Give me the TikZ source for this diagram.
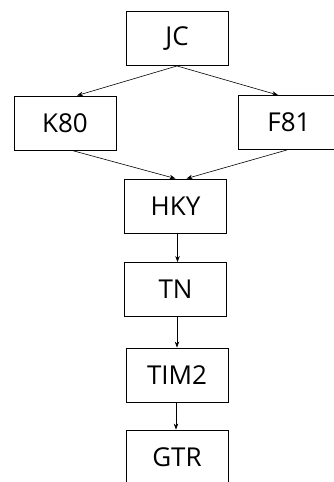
\documentclass[tikz,border=0pt]{standalone}
\usepackage{fontspec}
\setmainfont{Open Sans}
\usetikzlibrary{arrows.meta}
\begin{document}
\begin{tikzpicture}[x=1pt,y=-1pt,
  box/.style={draw, line width=0.9pt, minimum width=102pt, minimum height=54pt,
              inner sep=0pt, font=\fontsize{26}{26}\selectfont},
  arr/.style={-{Stealth[length=6pt,width=4.5pt]}, line width=0.6pt}]
\clip (0,0) rectangle (334,482);
% model boxes
\node[box] (jc)   at (177,38.5)  {JC};
\node[box] (k80)  at (65,123)    {K80};
\node[box] (f81)  at (289,122.5) {F81};
\node[box] (hky)  at (175.5,206) {HKY};
\node[box] (tn)   at (175.5,289.5) {TN};
\node[box] (tim2) at (177,375)   {TIM2};
\node[box] (gtr)  at (177,457)   {GTR};
% nesting arrows
\draw[arr] (jc.south) -- ([xshift=12pt]k80.north);
\draw[arr] (jc.south) -- ([xshift=-11pt]f81.north);
\draw[arr] ([xshift=7pt]k80.south) -- ([xshift=0pt]hky.north);
\draw[arr] ([xshift=-2pt]f81.south) -- ([xshift=11pt]hky.north);
\draw[arr] ([xshift=2pt]hky.south) -- ([xshift=2pt]tn.north);
\draw[arr] ([xshift=1.5pt]tn.south) -- ([xshift=0pt]tim2.north);
\draw[arr] ([xshift=-1pt]tim2.south) -- ([xshift=-1pt]gtr.north);
\end{tikzpicture}
\end{document}
